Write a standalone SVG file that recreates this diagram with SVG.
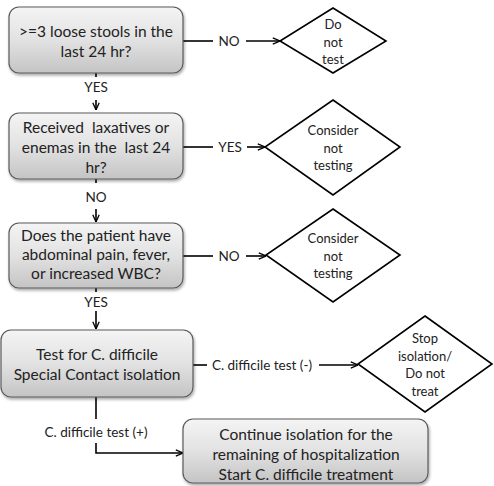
<svg xmlns="http://www.w3.org/2000/svg" width="494" height="486" viewBox="0 0 494 486">
<defs>
<linearGradient id="g" x1="0" y1="0" x2="0" y2="1">
<stop offset="0" stop-color="#f4f4f4"/>
<stop offset="0.5" stop-color="#e2e2e2"/>
<stop offset="1" stop-color="#c4c4c4"/>
</linearGradient>
<filter id="sh" x="-10%" y="-10%" width="120%" height="130%">
<feGaussianBlur in="SourceAlpha" stdDeviation="1.5"/>
<feOffset dx="1" dy="2"/>
<feComponentTransfer><feFuncA type="linear" slope="0.35"/></feComponentTransfer>
<feMerge><feMergeNode/><feMergeNode in="SourceGraphic"/></feMerge>
</filter>
<marker id="ah" viewBox="0 0 10 10" refX="10" refY="5" markerWidth="8" markerHeight="8" markerUnits="userSpaceOnUse" orient="auto">
<path d="M1,1 L10,5 L1,9" fill="none" stroke="#000" stroke-width="1.6"/>
</marker>
</defs>
<style>
.box{fill:url(#g);stroke:#5a5a5a;stroke-width:1.2;filter:url(#sh)}
.dia{fill:#fff;stroke:#000;stroke-width:1.6}
.t{font-family:Lato,"Open Sans",sans-serif;font-size:15.5px;fill:#222;text-anchor:middle;white-space:pre}
.s{font-family:Lato,"Open Sans",sans-serif;font-size:13px;fill:#222;text-anchor:middle}
.l{font-family:Lato,"Open Sans",sans-serif;font-size:13.5px;fill:#222;text-anchor:middle}
.c{fill:none;stroke:#000;stroke-width:1.6}
</style>
<g id="connectors">
<path class="c" d="M183,41 H213"/>
<path class="c" d="M246,41 H280" marker-end="url(#ah)"/>
<path class="c" d="M96,73 V77"/>
<path class="c" d="M96,100 V110" marker-end="url(#ah)"/>
<path class="c" d="M183,147 H213"/>
<path class="c" d="M247,147 H265" marker-end="url(#ah)"/>
<path class="c" d="M96,179 V183"/>
<path class="c" d="M96,209 V222" marker-end="url(#ah)"/>
<path class="c" d="M183,256 H213"/>
<path class="c" d="M246,256 H266" marker-end="url(#ah)"/>
<path class="c" d="M96,288 V292"/>
<path class="c" d="M96,311 V329" marker-end="url(#ah)"/>
<path class="c" d="M193,365 H207"/>
<path class="c" d="M319,365 H358" marker-end="url(#ah)"/>
<path class="c" d="M96,397 V419"/>
<path class="c" d="M96,443 V453 H183" marker-end="url(#ah)"/>
<text class="l" x="229" y="46">NO</text>
<text class="l" x="96" y="92">YES</text>
<text class="l" x="230" y="152">YES</text>
<text class="l" x="96" y="202">NO</text>
<text class="l" x="229" y="261">NO</text>
<text class="l" x="96" y="307">YES</text>
<text class="l" x="262" y="370">C. difficile test (-)</text>
<text class="l" x="96" y="437">C. difficile test (+)</text>
</g>
<g id="q1">
<rect class="box" x="9" y="7" width="174" height="66" rx="10"/>
<text class="t" x="96" y="37">&gt;=3 loose stools in the</text>
<text class="t" x="96" y="57">last 24 hr?</text>
</g>
<g id="d1">
<polygon class="dia" points="333,8 386,41 333,73 280,41"/>
<text class="s" x="333" y="29">Do</text>
<text class="s" x="333" y="47">not</text>
<text class="s" x="333" y="64">test</text>
</g>
<g id="q2">
<rect class="box" x="9" y="113" width="174" height="66" rx="10"/>
<text class="t" x="96" y="133">Received  laxatives or</text>
<text class="t" x="96" y="153">enemas in the  last 24</text>
<text class="t" x="96" y="173">hr?</text>
</g>
<g id="d2">
<polygon class="dia" points="333,100 400,147 333,195 265,147"/>
<text class="s" x="333" y="135">Consider</text>
<text class="s" x="333" y="153">not</text>
<text class="s" x="333" y="170">testing</text>
</g>
<g id="q3">
<rect class="box" x="9" y="223" width="174" height="65" rx="10"/>
<text class="t" x="96" y="241">Does the patient have</text>
<text class="t" x="96" y="260">abdominal pain, fever,</text>
<text class="t" x="96" y="279">or increased WBC?</text>
</g>
<g id="d3">
<polygon class="dia" points="333,209 400,255 333,302 266,255"/>
<text class="s" x="333" y="243">Consider</text>
<text class="s" x="333" y="261">not</text>
<text class="s" x="333" y="278">testing</text>
</g>
<g id="a4">
<rect class="box" x="1" y="330" width="192" height="67" rx="10"/>
<text class="t" x="97" y="360">Test for C. difficile</text>
<text class="t" x="97" y="380">Special Contact isolation</text>
</g>
<g id="d4">
<polygon class="dia" points="425,316 492,364 425,412 358,364"/>
<text class="s" x="425" y="343">Stop</text>
<text class="s" x="425" y="361">isolation/</text>
<text class="s" x="425" y="378">Do not</text>
<text class="s" x="425" y="396">treat</text>
</g>
<g id="a5">
<rect class="box" x="183" y="419" width="245" height="64" rx="10"/>
<text class="t" x="306" y="440">Continue isolation for the</text>
<text class="t" x="306" y="460">remaining of hospitalization</text>
<text class="t" x="306" y="480">Start C. difficile treatment</text>
</g>
</svg>
